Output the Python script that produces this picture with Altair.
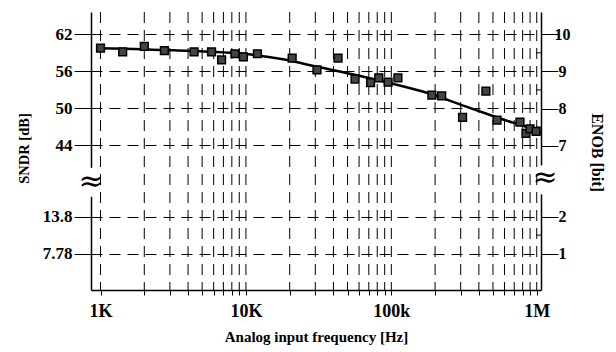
import altair as alt
import pandas as pd

# measured data points (frequency in Hz, SNDR in dB)
freq_pts = [1000, 1420, 2000, 2750, 4400, 5800, 6800, 8400, 9600, 12000,
            20800, 30800, 43000, 56300, 72000, 82000, 95000, 111000,
            190000, 222000, 309000, 447000, 533000, 767000, 843000, 899000, 990000]
sndr_pts = [59.7, 59.1, 60.0, 59.3, 59.1, 59.1, 57.8, 58.8, 58.3, 58.8,
            58.1, 56.2, 58.1, 54.7, 54.1, 54.9, 54.2, 54.9,
            52.1, 51.95, 48.5, 52.75, 48.05, 47.7, 45.9, 46.6, 46.2]

# fitted curve
curve_freq = [1000, 3200, 10000, 18000, 32000, 56000, 100000, 180000, 320000, 560000, 1000000, 1070000]
curve_sndr = [59.7, 59.35, 58.75, 57.9, 56.6, 55.4, 54.0, 52.4, 50.3, 48.3, 46.3, 46.0]

grid_freq = [1000, 2000, 3000, 4000, 5000, 6000, 7000, 8000, 9000,
             10000, 20000, 30000, 40000, 50000, 60000, 70000, 80000, 90000,
             100000, 200000, 300000, 400000, 500000, 600000, 700000, 800000, 900000,
             1000000]
x_tick_vals = [1000, 10000, 100000, 1000000]
x_tick_labels = ["1K", "10K", "100k", "1M"]

sndr_ticks = [62, 56, 50, 44, 13.8, 7.78]
sndr_tick_labels = ["62", "56", "50", "44", "13.8", "7.78"]
enob_ticks = [10, 9, 8, 7, 2, 1]
enob_minor = [9.5, 8.5, 7.5, 1.5]

BREAK_OFFSET = 18.6  # values below the axis break are shifted up by this


def disp(v):
    return v if v > 30 else v + BREAK_OFFSET


W, H = 450, 278
FONT = "Liberation Serif"

xscale = alt.Scale(type="log", domain=[860, 1070000], nice=False)
yscale = alt.Scale(domain=[20.49, 65.57], nice=False, zero=False)

left_vals = [disp(v) for v in sndr_ticks]
left_expr = " : ".join(
    f"abs(datum.value - {dv}) < 0.01 ? '{lab}'" for dv, lab in zip(left_vals, sndr_tick_labels)
) + " : ''"

right_vals = [disp(6.02 * e + 1.76) for e in enob_ticks]
right_expr = " : ".join(
    f"abs(datum.value - {dv}) < 0.01 ? '{e}'" for dv, e in zip(right_vals, enob_ticks)
) + " : ''"

x_expr = " : ".join(
    f"datum.value == {v} ? '{lab}'" for v, lab in zip(x_tick_vals, x_tick_labels)
) + " : ''"

grid_df = pd.DataFrame({"f": grid_freq})
curve_df = pd.DataFrame({"f": curve_freq, "s": curve_sndr})
pts_df = pd.DataFrame({"f": freq_pts, "s": sndr_pts})
minor_df = pd.DataFrame({"s": [disp(6.02 * e + 1.76) for e in enob_minor]})

x_axis = alt.Axis(
    values=grid_freq, labelExpr=x_expr, title="Analog input frequency [Hz]",
    grid=False, tickSize=5, tickColor="black", tickWidth=1,
    domainColor="black", domainWidth=1.5, labelFont=FONT, labelFontSize=18,
    labelFontWeight="bold", labelColor="black", labelPadding=7, labelOverlap=False,
    titleFont=FONT, titleFontSize=15, titleFontWeight="bold", titleColor="black",
    titlePadding=9,
)

vgrid = alt.Chart(grid_df).mark_rule(color="black", strokeWidth=1, strokeDash=[11, 7]).encode(
    x=alt.X("f:Q", scale=xscale, axis=x_axis)
)

left_axis = alt.Axis(
    values=left_vals, labelExpr=left_expr, title="SNDR [dB]", orient="left",
    grid=True, gridColor="black", gridDash=[11, 7], gridWidth=1, gridOpacity=1,
    tickSize=17, tickColor="black", tickWidth=1,
    domainColor="black", domainWidth=1.5, labelFont=FONT, labelFontSize=17,
    labelFontWeight="bold", labelColor="black", labelPadding=2,
    titleFont=FONT, titleFontSize=14.5, titleFontWeight="bold", titleColor="black",
    titleX=-67, titleY=136, titleAngle=270, titleBaseline="middle", titleAlign="center",
)

curve = alt.Chart(curve_df).mark_line(color="black", strokeWidth=2.5, interpolate="monotone").encode(
    x=alt.X("f:Q", scale=xscale),
    y=alt.Y("s:Q", scale=yscale, axis=left_axis),
)

right_axis = alt.Axis(
    values=right_vals, labelExpr=right_expr, title="ENOB [bit]", orient="right",
    grid=False, tickSize=17, tickColor="black", tickWidth=1,
    domainColor="black", domainWidth=1.5, labelFont=FONT, labelFontSize=16,
    labelFontWeight="bold", labelColor="black", labelPadding=4, labelAlign="center",
    titleFont=FONT, titleFontSize=16, titleFontWeight="bold", titleColor="black",
    titleX=55, titleY=140, titleAngle=90, titleBaseline="middle", titleAlign="center",
)

points = alt.Chart(pts_df).mark_square(size=60, color="#444444", stroke="black",
                                       strokeWidth=1.5, opacity=1).encode(
    x=alt.X("f:Q", scale=xscale),
    y=alt.Y("s:Q", scale=yscale, axis=right_axis),
)

minor_ticks = alt.Chart(minor_df).mark_rule(color="black", strokeWidth=1).encode(
    x=alt.value(W - 5), x2=alt.value(W),
    y=alt.Y("s:Q", scale=yscale, axis=None),
)

# axis break markers
gap_df = pd.DataFrame({"side": ["L", "R"], "y1": [40.3, 40.7], "y2": [35.6, 36.0]})
brk_df = pd.DataFrame({"side": ["L", "R"], "y": [38.0, 38.6]})

gap_left = alt.Chart(gap_df[gap_df.side == "L"]).mark_rule(color="white", strokeWidth=6).encode(
    x=alt.value(0),
    y=alt.Y("y1:Q", scale=yscale, axis=None), y2="y2:Q",
)
gap_right = alt.Chart(gap_df[gap_df.side == "R"]).mark_rule(color="white", strokeWidth=6).encode(
    x=alt.value(W),
    y=alt.Y("y1:Q", scale=yscale, axis=None), y2="y2:Q",
)
brk_left = alt.Chart(brk_df[brk_df.side == "L"]).mark_text(
    text="≈", font="DejaVu Serif", fontSize=30, color="black", baseline="middle"
).encode(x=alt.value(0), y=alt.Y("y:Q", scale=yscale, axis=None))
brk_right = alt.Chart(brk_df[brk_df.side == "R"]).mark_text(
    text="≈", font="DejaVu Serif", fontSize=30, color="black", baseline="middle"
).encode(x=alt.value(W + 4), y=alt.Y("y:Q", scale=yscale, axis=None))

chart = alt.layer(
    vgrid, curve, points, minor_ticks, gap_left, gap_right, brk_left, brk_right
).resolve_scale(y="independent").properties(
    width=W, height=H,
    autosize=alt.AutoSizeParams(type="none"),
    padding={"left": 83, "top": 4, "right": 67, "bottom": 58},
    background="white",
).configure_view(stroke=None)

chart.save("out.html", embed_options={"renderer": "svg", "actions": False})
